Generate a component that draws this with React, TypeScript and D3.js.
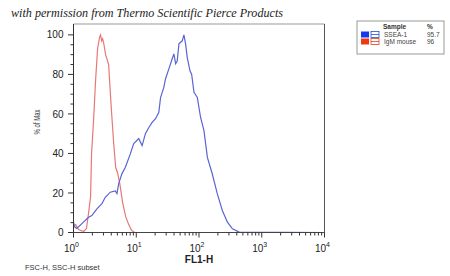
import React from "react";
import * as d3 from "d3";

// FL1-H values (linear) and % of Max for the two histograms
const blueX = [1.0, 1.03, 1.13, 1.36, 1.74, 1.96, 2.36, 2.84, 3.21, 3.86, 4.64, 4.93, 5.25, 5.93, 6.71, 8.07, 9.12, 10.96, 12.4, 14.0, 15.8, 17.9, 20.3, 22.9, 24.4, 27.5, 29.3, 33.1, 37.4, 39.8, 42.4, 45, 47.9, 54.1, 57.5, 61.2, 65, 71.8, 76.4, 83.2, 94, 106, 120, 136, 163, 196, 236, 284, 341, 437, 10000];
const blueY = [5.5, 3, 2, 4.5, 7.7, 8.6, 12, 14.6, 17.8, 20.4, 21, 19.7, 24.7, 29.8, 33, 39.9, 45, 47.5, 44, 50, 53, 55.7, 57.6, 60.8, 68.3, 73.4, 77.8, 82.8, 87.9, 90.4, 85.4, 86.9, 95.5, 97, 100, 95.3, 88.5, 81.8, 80, 70.9, 68.3, 58.2, 51.5, 38, 29.6, 19.5, 11, 5.2, 1.9, 0.2, 0];

const redX = [1.0, 1.08, 1.2, 1.45, 1.61, 1.74, 1.87, 1.94, 2.09, 2.25, 2.42, 2.61, 2.7, 2.81, 2.91, 3.02, 3.25, 3.63, 3.91, 4.06, 4.37, 4.7, 5.06, 5.45, 6.08, 6.79, 7.59, 8.47, 9.46, 10000];
const redY = [3.5, 4, 1.5, 0.5, 2, 10, 18, 40, 57, 77, 93, 99, 100, 97, 98, 96, 90, 85, 68, 60, 45, 33, 30, 25, 15, 8, 4, 1, 0, 0];

const yTicks = [0, 20, 40, 60, 80, 100];
const xDecades = [0, 1, 2, 3, 4];

const legendRows = [
  { name: "SSEA-1", pct: "95.7", fill: "#1838ee", stroke: "#2848d8" },
  { name: "IgM mouse", pct: "96", fill: "#ee3812", stroke: "#e04020" },
];

export default function App() {
  const x = d3.scaleLog().domain([1, 10000]).range([73.5, 324.5]);
  const y = d3.scaleLinear().domain([0, 105.5]).range([232.5, 24]);
  const [x0, x1] = x.range();
  const [yb, yt] = y.range();

  const line = d3
    .line<[number, number]>()
    .x((d) => x(d[0]))
    .y((d) => y(d[1]));

  const blue = blueX.map((v, i) => [v, blueY[i]] as [number, number]);
  const red = redX.map((v, i) => [v, redY[i]] as [number, number]);

  const minorY = d3.range(0, 101, 5).filter((v) => v % 20 !== 0);
  const minorX: number[] = [];
  for (let dec = 0; dec < 4; dec++) {
    for (let m = 2; m <= 9; m++) minorX.push(m * Math.pow(10, dec));
  }

  const font = "Arial, 'Liberation Sans', Helvetica, sans-serif";

  return (
    <svg
      width={450}
      height={276}
      style={{ position: "absolute", left: 0, top: 0, background: "#fff" }}
      fontFamily={font}
    >
      <rect x={0} y={0} width={450} height={276} fill="#fff" />
      <text
        x={11}
        y={17}
        fontFamily="'Liberation Serif', 'DejaVu Serif', serif"
        fontStyle="italic"
        fontSize={12}
        textLength={272}
        lengthAdjust="spacingAndGlyphs"
        fill="#222"
      >
        with permission from Thermo Scientific Pierce Products
      </text>

      {/* frame */}
      <line x1={x0} x2={x1} y1={yt} y2={yt} stroke="#999" strokeWidth={1} />
      <line x1={x1} x2={x1} y1={yt} y2={yb} stroke="#555" strokeWidth={1} />

      {/* curves */}
      <path d={line(red) || ""} fill="none" stroke="#e67878" strokeWidth={1.2} />
      <path d={line(blue) || ""} fill="none" stroke="#5a64d4" strokeWidth={1.2} />

      {/* y axis */}
      <line x1={x0} x2={x0} y1={yt} y2={yb} stroke="#333" strokeWidth={1} />
      {minorY.map((v) => (
        <line key={"my" + v} x1={x0 - 3} x2={x0} y1={y(v)} y2={y(v)} stroke="#333" strokeWidth={1} />
      ))}
      {yTicks.map((v) => (
        <g key={"y" + v}>
          <line x1={x0 - 5.5} x2={x0} y1={y(v)} y2={y(v)} stroke="#333" strokeWidth={1} />
          <text x={63.5} y={y(v)} dy="0.36em" textAnchor="end" fontSize={10} fill="#222">
            {v}
          </text>
        </g>
      ))}
      <text
        transform={`translate(40,122) rotate(-90)`}
        textAnchor="middle"
        fontSize={9}
        textLength={25}
        lengthAdjust="spacingAndGlyphs"
        fill="#333"
      >
        % of Max
      </text>

      {/* x axis */}
      <line x1={x0} x2={x1} y1={yb} y2={yb} stroke="#444" strokeWidth={1} />
      {minorX.map((v) => (
        <line key={"mx" + v} x1={x(v)} x2={x(v)} y1={yb} y2={yb + 3} stroke="#333" strokeWidth={1} />
      ))}
      {xDecades.map((d) => (
        <g key={"x" + d}>
          <line x1={x(Math.pow(10, d))} x2={x(Math.pow(10, d))} y1={yb} y2={yb + 5} stroke="#333" strokeWidth={1} />
          <text x={x(Math.pow(10, d)) - 2} y={252} textAnchor="middle" fontSize={10} fill="#222">
            10
            <tspan fontSize={7} dy={-5}>
              {d}
            </tspan>
          </text>
        </g>
      ))}
      <text x={199} y={263} textAnchor="middle" fontSize={10} fontWeight="bold" fill="#222">
        FL1-H
      </text>
      <text x={25} y={270} fontSize={7.5} fill="#333">
        FSC-H, SSC-H subset
      </text>

      {/* legend */}
      <rect x={357} y={21} width={87} height={33} fill="#fff" stroke="#999" strokeWidth={1} />
      <text x={383} y={28.5} fontSize={6.5} fontWeight="bold" fill="#333">
        Sample
      </text>
      <text x={427} y={28.5} fontSize={6.5} fontWeight="bold" fill="#333">
        %
      </text>
      {legendRows.map((r, i) => {
        const ry = 31.5 + i * 7;
        return (
          <g key={r.name}>
            <rect x={361} y={ry} width={8} height={6} fill={r.fill} />
            <rect x={371} y={ry} width={8} height={6} fill="#fff" stroke={r.stroke} strokeWidth={0.8} />
            <line x1={371} x2={379} y1={ry + 3} y2={ry + 3} stroke={r.stroke} strokeWidth={0.8} />
            <text x={384} y={ry + 5.5} fontSize={6.5} fill="#444">
              {r.name}
            </text>
            <text x={427} y={ry + 5.5} fontSize={6.5} fill="#444">
              {r.pct}
            </text>
          </g>
        );
      })}
    </svg>
  );
}
